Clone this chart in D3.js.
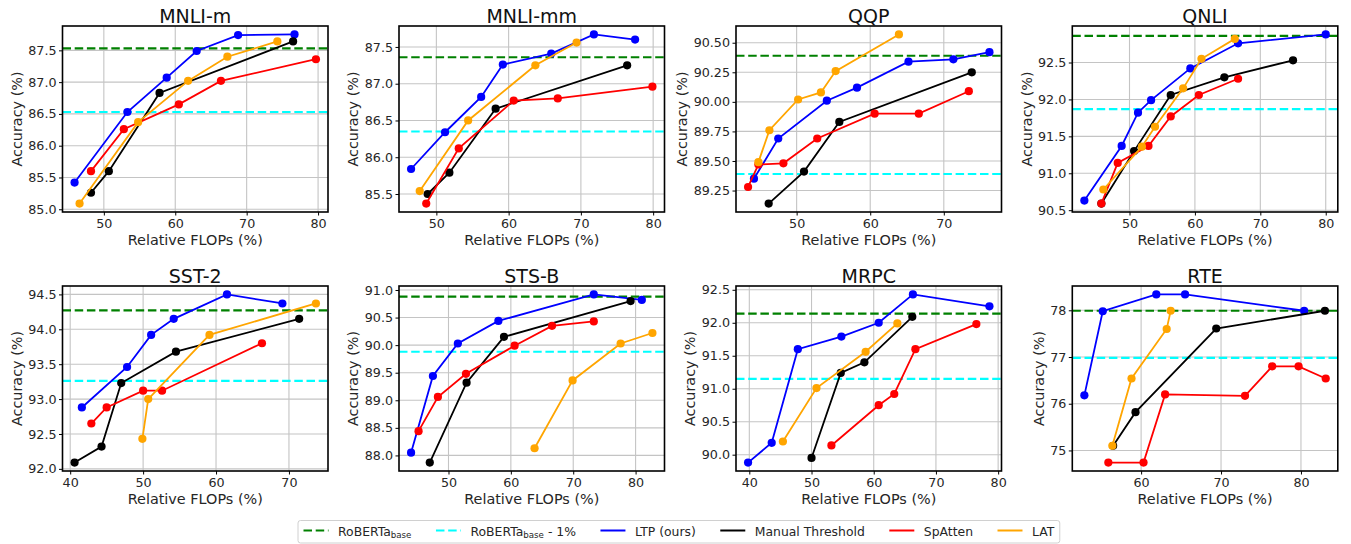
<!DOCTYPE html>
<html><head><meta charset="utf-8">
<script src="https://cdn.jsdelivr.net/npm/d3@7"></script>
<style>
body{margin:0;background:#fff;}
svg{display:block;font-family:"DejaVu Sans",sans-serif;}
</style></head>
<body><svg id="c" width="1351" height="544"></svg>
<script>
// ---------- DATA ----------
const datasets = ["MNLI-m","MNLI-mm","QQP","QNLI","SST-2","STS-B","MRPC","RTE"];
const baseline       = [87.53, 87.36, 90.39, 92.86, 94.27, 90.88, 92.14, 77.99];
const baselineMinus1 = [86.53, 86.35, 89.39, 91.87, 93.26, 89.88, 91.15, 76.98];

const ltpX = [[45.9,53.3,58.8,63.0,68.8,76.7],[46.5,51.2,56.2,59.2,65.9,71.8,77.5],[44.2,47.5,54.1,58.2,65.2,71.3,76.2],[43.1,48.8,51.3,53.3,59.3,66.6,80.0],[41.6,47.8,51.1,54.2,61.5,69.1],[44.0,47.5,51.5,58.0,73.3,81.0],[39.8,43.6,47.8,54.8,60.8,66.3,78.6],[52.9,55.2,61.9,65.5,80.4]];
const ltpY = [[85.42,86.53,87.07,87.49,87.74,87.75],[85.84,86.34,86.82,87.26,87.41,87.67,87.60],[89.35,89.69,90.01,90.12,90.34,90.36,90.42],[90.63,91.37,91.82,91.99,92.42,92.76,92.88],[92.88,93.46,93.92,94.15,94.50,94.37],[88.05,89.44,90.03,90.44,90.92,90.82],[89.88,90.18,91.60,91.79,92.00,92.43,92.25],[76.18,77.98,78.34,78.34,77.99]];

const manX = [[48.2,50.7,57.8,76.5],[48.8,51.8,58.2,76.4],[46.2,51.0,55.8,73.8],[45.7,50.7,56.3,64.5,75.0],[40.6,44.3,47.0,54.5,71.4],[47.0,52.9,58.9,79.2],[50.0,54.7,58.5,66.2],[56.5,59.3,69.4,83.0]];
const manY = [[85.26,85.60,86.83,87.64],[85.50,85.79,86.66,87.25],[89.14,89.41,89.83,90.25],[90.59,91.30,92.06,92.30,92.53],[92.09,92.32,93.23,93.68,94.15],[87.87,89.32,90.15,90.80],[89.95,91.24,91.40,92.09],[75.10,75.82,77.61,77.99]];

const spaX = [[48.2,52.8,60.5,66.4,79.7],[48.6,53.1,60.7,66.8,79.9],[43.4,44.8,48.2,52.8,60.6,66.6,73.4],[45.7,48.2,52.9,56.3,60.6,66.6],[42.9,45.0,50.0,52.6,66.3],[45.2,48.3,52.8,60.6,66.6,73.3],[53.2,60.8,63.3,66.7,76.5],[55.9,60.3,63.0,73.0,76.4,79.7,83.1]];
const spaY = [[85.60,86.26,86.65,87.02,87.36],[85.37,86.12,86.77,86.80,86.96],[89.28,89.47,89.48,89.69,89.90,89.90,90.09],[90.59,91.14,91.37,91.77,92.06,92.28],[92.65,92.88,93.12,93.12,93.80],[88.44,89.06,89.48,89.99,90.35,90.43],[90.14,90.75,90.92,91.60,91.98],[74.74,74.74,76.20,76.17,76.80,76.80,76.54]];

const latX = [[46.6,54.8,61.8,67.3,74.3],[47.7,54.4,63.7,69.4],[44.8,46.3,50.2,53.3,55.3,63.9],[46.0,51.9,53.9,58.2,61.0,66.1],[49.9,50.7,59.1,73.7],[63.8,69.9,77.6,82.7],[45.4,50.8,58.7,63.8],[56.4,58.8,63.2,63.7]];
const latY = [[85.09,86.37,87.02,87.40,87.64],[85.54,86.50,87.25,87.56],[89.49,89.76,90.02,90.08,90.26,90.57],[90.78,91.36,91.63,92.15,92.55,92.82],[92.43,93.00,93.92,94.37],[88.13,89.36,90.03,90.22],[90.20,91.01,91.56,91.99],[75.10,76.54,77.60,77.99]];

const xTicks = [[50,60,70,80],[50,60,70,80],[50,60,70],[50,60,70,80],[40,50,60,70],[50,60,70,80],[40,50,60,70,80],[60,70,80]];
const yTicks = [[85.0,85.5,86.0,86.5,87.0,87.5],[85.5,86.0,86.5,87.0,87.5],[89.25,89.50,89.75,90.00,90.25,90.50],[90.5,91.0,91.5,92.0,92.5],[92.0,92.5,93.0,93.5,94.0,94.5],[88.0,88.5,89.0,89.5,90.0,90.5,91.0],[90.0,90.5,91.0,91.5,92.0,92.5],[75,76,77,78]];
const yDecimals = [1,1,2,1,1,1,1,0];

const seriesNames = ["LTP (ours)","Manual Threshold","SpAtten","LAT"];
const seriesColors = ["#0000ff","#000000","#ff0000","#ffa500"];
const baseColors = ["#008000","#00ffff"];

// ---------- LAYOUT ----------
const svg = d3.select("#c");
const colLeft = [62.5, 399, 736, 1072.3];
const axW = 265.5;
const rowTop = [26, 286], rowH = [186, 185];
const FONT_TICK = 12.7, FONT_LABEL = 14.4, FONT_TITLE = 19;

datasets.forEach((name, i) => {
  const col = i % 4, row = Math.floor(i / 4);
  const L = colLeft[col], T = rowTop[row], W = axW, H = rowH[row];
  const series = [[ltpX[i], ltpY[i]], [manX[i], manY[i]], [spaX[i], spaY[i]], [latX[i], latY[i]]];
  const allX = series.flatMap(s => s[0]);
  const allY = series.flatMap(s => s[1]);
  const [x0, x1] = d3.extent(allX), [y0, y1] = d3.extent(allY);
  const px = (x1 - x0) * 0.05, py = (y1 - y0) * 0.05;
  const x = d3.scaleLinear().domain([x0 - px, x1 + px]).range([0, W]);
  const y = d3.scaleLinear().domain([y0 - py, y1 + py]).range([H, 0]);

  const g = svg.append("g").attr("transform", `translate(${L},${T})`);

  // grid
  g.append("g").selectAll("line").data(xTicks[i]).join("line")
    .attr("x1", d => x(d)).attr("x2", d => x(d)).attr("y1", 0).attr("y2", H)
    .attr("stroke", "#c4c4c4").attr("stroke-width", 1.1);
  g.append("g").selectAll("line").data(yTicks[i]).join("line")
    .attr("y1", d => y(d)).attr("y2", d => y(d)).attr("x1", 0).attr("x2", W)
    .attr("stroke", "#c4c4c4").attr("stroke-width", 1.1);

  // axes
  const fmt = d3.format("." + yDecimals[i] + "f");
  const xa = g.append("g").attr("transform", `translate(0,${H})`)
    .call(d3.axisBottom(x).tickValues(xTicks[i]).tickFormat(d3.format("d")).tickSize(3.5).tickPadding(3));
  const ya = g.append("g")
    .call(d3.axisLeft(y).tickValues(yTicks[i]).tickFormat(fmt).tickSize(3.5).tickPadding(2.5));
  [xa, ya].forEach(a => {
    a.select(".domain").remove();
    a.selectAll("line").attr("stroke", "#000").attr("stroke-width", 1);
    a.selectAll("text").attr("font-size", FONT_TICK).attr("fill", "#262626")
      .attr("font-family", "DejaVu Sans");
  });

  // clip
  const cid = "clip" + i;
  g.append("clipPath").attr("id", cid).append("rect").attr("width", W).attr("height", H);
  const plot = g.append("g").attr("clip-path", `url(#${cid})`);

  // baselines
  [baseline[i], baselineMinus1[i]].forEach((v, k) => {
    plot.append("line").attr("x1", 0).attr("x2", W).attr("y1", y(v)).attr("y2", y(v))
      .attr("stroke", baseColors[k]).attr("stroke-width", 2.2).attr("stroke-dasharray", "8.5,3.7");
  });

  // series
  const line = d3.line().x(d => x(d[0])).y(d => y(d[1]));
  series.forEach((s, k) => {
    const pts = s[0].map((v, j) => [v, s[1][j]]);
    plot.append("path").datum(pts).attr("d", line).attr("fill", "none")
      .attr("stroke", seriesColors[k]).attr("stroke-width", 1.8);
    plot.append("g").selectAll("circle").data(pts).join("circle")
      .attr("cx", d => x(d[0])).attr("cy", d => y(d[1])).attr("r", 4.1)
      .attr("fill", seriesColors[k]);
  });

  // frame
  g.append("rect").attr("width", W).attr("height", H).attr("fill", "none")
    .attr("stroke", "#000").attr("stroke-width", 1.6);

  // title
  g.append("text").attr("x", W / 2).attr("y", -3.5).attr("text-anchor", "middle")
    .attr("font-size", FONT_TITLE).attr("fill", "#111").text(name);
  // x label
  g.append("text").attr("x", W / 2).attr("y", H + 32.5).attr("text-anchor", "middle")
    .attr("font-size", FONT_LABEL).attr("fill", "#262626").text("Relative FLOPs (%)");
  // y label
  let minLeft = 0;
  ya.selectAll("text").each(function () {
    const b = this.getBBox();
    const tx = -3.5 - 2.5; // anchor end position
    minLeft = Math.min(minLeft, tx - b.width);
  });
  const yl = g.append("text").attr("text-anchor", "middle")
    .attr("font-size", FONT_LABEL).attr("fill", "#262626").text("Accuracy (%)");
  yl.attr("x", 0).attr("y", 0);
  const bb = yl.node().getBBox();
  const desc = bb.y + bb.height; // below baseline
  const lx = minLeft - 3.5 - desc;
  yl.attr("x", 0).attr("y", 0)
    .attr("transform", `translate(${lx},${H / 2}) rotate(-90)`);
});

// ---------- LEGEND ----------
const legItems = [
  {type: "dash", color: baseColors[0], label: ["RoBERTa", "base", ""]},
  {type: "dash", color: baseColors[1], label: ["RoBERTa", "base", " - 1%"]},
  ...seriesNames.map((n, k) => ({type: "solid", color: seriesColors[k], label: [n]}))
];
const LF = 12.4, handleLen = 25, textPad = 9.5, colSpace = 24.5, padX = 5.5;
const leg = svg.append("g");
const legTop = 520.5, legH = 22.5, lineY = 530.5, textY = 535.5;
const box = leg.append("rect");
let cx = 0;
const itemsG = leg.append("g");
legItems.forEach((it, k) => {
  const h = itemsG.append("line").attr("x1", cx).attr("x2", cx + handleLen)
    .attr("y1", lineY).attr("y2", lineY).attr("stroke", it.color);
  if (it.type === "dash") h.attr("stroke-width", 2.2).attr("stroke-dasharray", "8.5,3.7");
  else h.attr("stroke-width", 2);
  const t = itemsG.append("text").attr("x", cx + handleLen + textPad).attr("y", textY)
    .attr("font-size", LF).attr("fill", "#262626");
  t.append("tspan").text(it.label[0]);
  if (it.label.length > 1) {
    t.append("tspan").attr("font-size", LF * 0.7).attr("dy", 2.6).text(it.label[1]);
    if (it.label[2]) t.append("tspan").attr("dy", -2.6).text(it.label[2]);
  }
  const w = t.node().getComputedTextLength();
  cx += handleLen + textPad + w + colSpace;
});
const totalW = cx - colSpace + padX * 2;
const legLeft = 298;
itemsG.attr("transform", `translate(${legLeft + padX},0)`);
box.attr("x", legLeft).attr("y", legTop).attr("width", totalW).attr("height", legH)
  .attr("rx", 2.5).attr("fill", "#fff").attr("stroke", "#d0d0d0").attr("stroke-width", 1);
</script></body></html>
